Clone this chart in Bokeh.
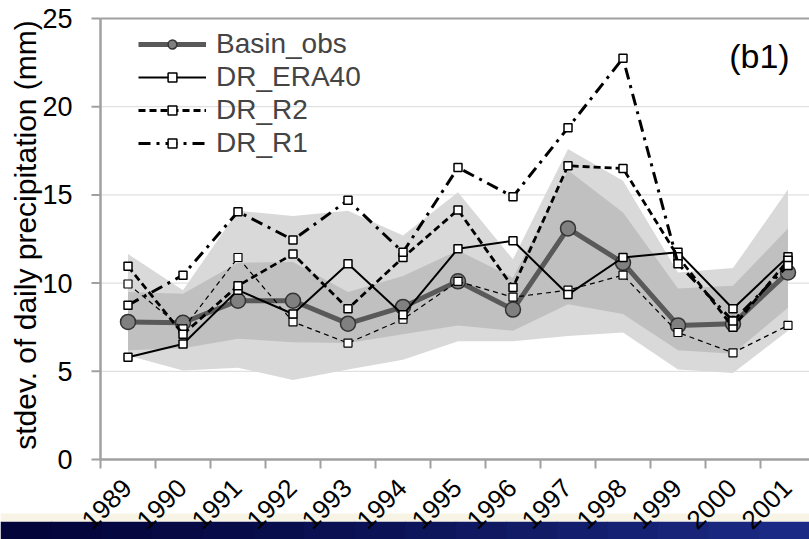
from math import pi

from bokeh.core.properties import value
from bokeh.embed import file_html
from bokeh.models import BoxAnnotation, Label, Legend, LegendItem, Range1d
from bokeh.plotting import figure
from bokeh.resources import INLINE

# ---- data: yearly stdev. of daily precipitation (mm) ----
years = ["1989", "1990", "1991", "1992", "1993", "1994", "1995",
         "1996", "1997", "1998", "1999", "2000", "2001"]

basin_obs = [7.8, 7.75, 9.0, 9.0, 7.7, 8.65, 10.1, 8.5, 13.1, 11.15, 7.6, 7.7, 10.6]
dr_era40 = [5.8, 6.55, 9.6, 8.25, 11.1, 8.2, 11.95, 12.4, 9.35, 11.45, 11.75, 8.55, 11.5]
dr_r2 = [10.95, 7.1, 9.85, 11.65, 8.55, 11.45, 14.15, 9.75, 16.65, 16.5, 11.5, 7.5, 11.3]
dr_r1 = [8.75, 10.45, 14.05, 12.45, 14.7, 11.75, 16.55, 14.9, 18.8, 22.75, 11.1, 7.85, 11.0]
dr_other = [9.95, 7.4, 11.45, 7.8, 6.6, 7.95, 10.1, 9.2, 9.6, 10.45, 7.2, 6.05, 7.6]

# ensemble envelopes (outer and inner ranges)
outer_hi = [11.65, 9.6, 14.1, 13.8, 14.1, 12.7, 15.15, 11.35, 17.6, 15.8, 10.6, 10.85, 15.3]
outer_lo = [5.9, 5.05, 5.2, 4.5, 5.1, 5.65, 6.7, 6.7, 7.0, 7.2, 5.1, 4.9, 7.3]
inner_hi = [9.5, 9.4, 11.15, 11.2, 9.5, 10.4, 11.85, 10.3, 16.4, 14.0, 9.7, 9.85, 13.1]
inner_lo = [6.2, 6.3, 6.85, 6.65, 6.6, 7.1, 7.6, 7.3, 8.8, 8.25, 6.2, 6.0, 8.6]

y_ticks = [0, 5, 10, 15, 20, 25]
y_tick_labels = ["0", "5", "10", "15", "20", "25"]
y_title = "stdev. of daily precipitation (mm)"

FONT = value("Liberation Sans")
AXIS_GRAY = "#a0a0a0"
W, H = 809, 539
TOP, LEFT = 18, 100          # where the value axis' top and left edges sit
PX_X, PX_Y = 55, 17.64       # pixels per category / per mm
Y_MAX = 25

# The frame covers the whole page, so the axes, year labels and footer bar
# are drawn as glyphs in the same coordinates as the data.
X0 = -0.5                     # left edge of the first category = value axis
x_start = X0 - LEFT / PX_X
x_end = X0 + (W - LEFT) / PX_X
y_end = Y_MAX + TOP / PX_Y
y_start = Y_MAX - (H - TOP) / PX_Y

x = list(range(len(years)))
cat_edges = [i - 0.5 for i in range(len(years) + 1)]

p = figure(width=W, height=H, output_backend="svg", toolbar_location=None,
           x_range=Range1d(x_start, x_end), y_range=Range1d(y_start, y_end),
           x_axis_location=None, y_axis_location=None,
           min_border=0, background_fill_color="white",
           border_fill_color="white", outline_line_color=None)
p.grid.visible = False

# slide footer bar (canvas units, measured down from the top edge)
bar_colors = ["#03043a", "#04053d", "#050741", "#060944", "#070b48", "#080d4c",
              "#0a1051", "#0b1256", "#0d155b", "#0f1860", "#111b66", "#131e6c",
              "#152172", "#172478", "#19277e", "#1b2a84"]
n_bar = len(bar_colors)
for i, c in enumerate(bar_colors):
    p.add_layout(BoxAnnotation(left=W * i / n_bar, right=W * (i + 1) / n_bar + 1,
                               top=521, bottom=H, left_units="canvas",
                               right_units="canvas", top_units="canvas",
                               bottom_units="canvas", fill_color=c, fill_alpha=1,
                               line_color=None, level="underlay"))
p.add_layout(BoxAnnotation(left=0, right=W, top=513, bottom=521,
                           left_units="canvas", right_units="canvas",
                           top_units="canvas", bottom_units="canvas",
                           fill_color="#f7f4e6", fill_alpha=1, line_color=None,
                           level="underlay"))

# horizontal gridlines (the top one doubles as the plot-area border)
inner_ticks = y_ticks[1:-1]
p.segment(x0=[X0] * len(inner_ticks), x1=[x_end] * len(inner_ticks),
          y0=inner_ticks, y1=inner_ticks, line_color="#d9d9d9", line_width=1)
p.segment(x0=[X0], x1=[x_end], y0=[Y_MAX], y1=[Y_MAX], line_color=AXIS_GRAY,
          line_width=2)

# envelopes
p.varea(x=x, y1=outer_lo, y2=outer_hi, fill_color="#d9d9d9")
p.varea(x=x, y1=inner_lo, y2=inner_hi, fill_color="#c0c0c0")

# observed basin series
basin_line = p.line(x, basin_obs, line_color="#595959", line_width=5)
basin_pts = p.scatter(x, basin_obs, marker="circle", size=15, fill_color="#808080",
                      line_color="#333333", line_width=1.5)

# downscaled series
other_line = p.line(x, dr_other, line_color="black", line_width=1.2, line_dash="5 4")
other_pts = p.scatter(x, dr_other, marker="square", size=8, fill_color="white",
                      line_color="black", line_width=1.2)

era_line = p.line(x, dr_era40, line_color="black", line_width=2)
era_pts = p.scatter(x, dr_era40, marker="square", size=8, fill_color="white",
                    line_color="black", line_width=1.5)

r2_line = p.line(x, dr_r2, line_color="black", line_width=2.8, line_dash="7 4")
r2_pts = p.scatter(x, dr_r2, marker="square", size=8, fill_color="white",
                   line_color="black", line_width=1.5)

r1_line = p.line(x, dr_r1, line_color="black", line_width=3, line_dash="12 6 3 6")
r1_pts = p.scatter(x, dr_r1, marker="square", size=8, fill_color="white",
                   line_color="black", line_width=1.5)

# category axis: base line, boundary ticks and slanted year labels
p.segment(x0=[X0], x1=[x_end], y0=[0], y1=[0], line_color=AXIS_GRAY,
          line_width=2.5)
p.ray(x=cat_edges, y=[0] * len(cat_edges), length=9, length_units="screen",
      angle=-pi / 2, line_color=AXIS_GRAY, line_width=2)
p.text(x=x, y=[0] * len(years), text=years, angle=pi / 4, text_align="right",
       text_baseline="middle", x_offset=-1, y_offset=24, text_font=FONT,
       text_font_size="26px", text_color="black")

# value axis: line, ticks, tick labels and title
p.segment(x0=[X0], x1=[X0], y0=[0], y1=[Y_MAX], line_color=AXIS_GRAY,
          line_width=2.5)
p.ray(x=[X0] * len(y_ticks), y=y_ticks, length=9, length_units="screen",
      angle=pi, line_color=AXIS_GRAY, line_width=2)
p.text(x=[X0] * len(y_ticks), y=y_ticks, text=y_tick_labels, text_align="right",
       text_baseline="middle", x_offset=-28, text_font=FONT,
       text_font_size="27px", text_color="black")
p.text(x=[X0], y=[Y_MAX / 2], text=[y_title], angle=pi / 2, text_align="center",
       text_baseline="middle", x_offset=-75, y_offset=-4, text_font=FONT,
       text_font_size="30px", text_color="black")

legend = Legend(items=[
    LegendItem(label="Basin_obs", renderers=[basin_line, basin_pts]),
    LegendItem(label="DR_ERA40", renderers=[era_line, era_pts]),
    LegendItem(label="DR_R2", renderers=[r2_line, r2_pts]),
    LegendItem(label="DR_R1", renderers=[r1_line, r1_pts]),
], location=(138, 380), glyph_width=68, glyph_height=22, spacing=1, padding=5,
    label_standoff=10, label_text_font="Liberation Sans",
    label_text_font_size="28px", background_fill_alpha=0,
    border_line_color=None)
p.add_layout(legend)

p.add_layout(Label(x=10.93, y=22.9, text="(b1)", text_font="Liberation Sans",
                   text_font_size="34px", text_baseline="middle",
                   text_align="left", text_color="black"))

open("out.html", "w").write(file_html(p, INLINE))
